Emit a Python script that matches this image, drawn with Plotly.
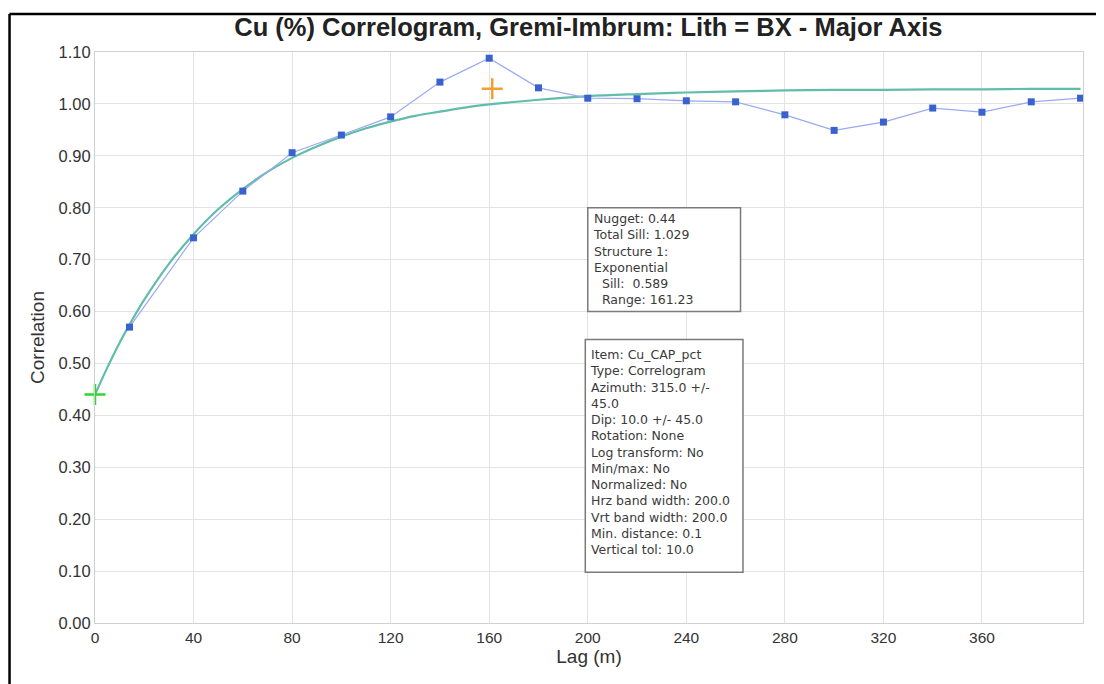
import plotly.graph_objects as go

# Experimental correlogram points
lag_exp = [14, 40, 60, 80, 100, 120, 140, 160, 180, 200, 220, 240, 260, 280, 300, 320, 340, 360, 380, 400]
corr_exp = [0.570, 0.742, 0.832, 0.906, 0.940, 0.975, 1.042, 1.088, 1.031, 1.011, 1.010, 1.006, 1.004, 0.979,
            0.949, 0.965, 0.992, 0.984, 1.004, 1.011]

# Model curve
lag_model = [0, 5, 10, 15, 20, 30, 40, 50, 60, 70, 80, 90, 100, 110, 120, 130, 140, 150, 160, 180, 200,
             220, 240, 260, 280, 300, 320, 340, 360, 380, 400]
corr_model = [0.440, 0.492, 0.540, 0.583, 0.623, 0.692, 0.749, 0.797, 0.836, 0.869, 0.896, 0.918, 0.937,
              0.953, 0.966, 0.977, 0.985, 0.993, 0.999, 1.008, 1.015, 1.019, 1.022, 1.024, 1.026, 1.027,
              1.027, 1.028, 1.028, 1.029, 1.029]

nugget_pt = (0, 0.44)
sill_range_pt = (161.23, 1.029)

x_ticks = [0, 40, 80, 120, 160, 200, 240, 280, 320, 360]
y_ticks = [0.0, 0.1, 0.2, 0.3, 0.4, 0.5, 0.6, 0.7, 0.8, 0.9, 1.0, 1.1]

box1_lines = ["Nugget: 0.44", "Total Sill: 1.029", "Structure 1:", "Exponential",
              "&nbsp;&nbsp;Sill:&nbsp;&nbsp;0.589", "&nbsp;&nbsp;Range: 161.23"]
box2_lines = ["Item: Cu_CAP_pct", "Type: Correlogram", "Azimuth: 315.0 +/-", "45.0",
              "Dip: 10.0 +/- 45.0", "Rotation: None", "Log transform: No", "Min/max: No",
              "Normalized: No", "Hrz band width: 200.0", "Vrt band width: 200.0",
              "Min. distance: 0.1", "Vertical tol: 10.0"]

FONT = "Liberation Sans, Arial, sans-serif"
BOXFONT = "DejaVu Sans, sans-serif"

fig = go.Figure()

fig.add_trace(go.Scatter(x=lag_model, y=corr_model, mode="lines",
                         line=dict(color="#62bcaa", width=2.2, shape="spline"),
                         showlegend=False, hoverinfo="skip"))
fig.add_trace(go.Scatter(x=lag_exp, y=corr_exp, mode="lines+markers",
                         line=dict(color="#9aaaf0", width=1.2),
                         marker=dict(symbol="square", size=7, color="#3a62cf"),
                         showlegend=False, cliponaxis=False))
fig.add_trace(go.Scatter(x=[nugget_pt[0]], y=[nugget_pt[1]], mode="markers",
                         marker=dict(symbol="cross-thin", size=15, line=dict(color="#2fd62f", width=2.5)),
                         showlegend=False, cliponaxis=False))
fig.add_trace(go.Scatter(x=[sill_range_pt[0]], y=[sill_range_pt[1]], mode="markers",
                         marker=dict(symbol="cross-thin", size=15, line=dict(color="#f0a032", width=2.5)),
                         showlegend=False, cliponaxis=False))

# info boxes
fig.add_shape(type="rect", xref="x", yref="y", x0=200, x1=262, y0=0.60, y1=0.80,
              line=dict(color="#7a7a7a", width=1.5), fillcolor="white", layer="above")
fig.add_shape(type="rect", xref="x", yref="y", x0=199, x1=263, y0=0.098, y1=0.546,
              line=dict(color="#7a7a7a", width=1.5), fillcolor="white", layer="above")

fig.add_annotation(x=201.2, y=0.797, xref="x", yref="y", xanchor="left", yanchor="top",
                   text="<br>".join(box1_lines), showarrow=False, align="left",
                   font=dict(family=BOXFONT, size=12.5, color="#3a3a3a"))
fig.add_annotation(x=200.2, y=0.535, xref="x", yref="y", xanchor="left", yanchor="top",
                   text="<br>".join(box2_lines), showarrow=False, align="left",
                   font=dict(family=BOXFONT, size=12.5, color="#3a3a3a"))

# outer black frame (top and left edges)
fig.add_shape(type="line", xref="paper", yref="paper", x0=-0.0865, x1=1.03, y0=1.0665, y1=1.0665,
              line=dict(color="black", width=2.5))
fig.add_shape(type="line", xref="paper", yref="paper", x0=-0.0865, x1=-0.0865, y0=1.0665, y1=-0.12,
              line=dict(color="black", width=2.5))

fig.update_layout(
    width=1096, height=676,
    margin=dict(l=87, r=21, t=44, b=61),
    paper_bgcolor="white", plot_bgcolor="white",
    title=dict(text="<b>Cu (%) Correlogram, Gremi-Imbrum: Lith = BX - Major Axis</b>",
               x=0.5295, xanchor="center", y=0.9715, yanchor="middle",
               font=dict(family=FONT, size=25.5, color="#222222")),
    font=dict(family=FONT, color="#333333"),
    showlegend=False,
)
fig.update_xaxes(range=[0, 401], tickvals=x_ticks, ticktext=[str(v) for v in x_ticks],
                 showgrid=True, gridcolor="#e3e3e3", gridwidth=1,
                 showline=True, linecolor="#d0d0d0", mirror=True, zeroline=False,
                 ticks="", tickfont=dict(size=15.5, color="#333333"),
                 title=dict(text="Lag (m)", font=dict(size=19, color="#333333"), standoff=4))
fig.update_yaxes(range=[0, 1.1], tickvals=y_ticks, ticktext=[f"{v:.2f}" for v in y_ticks],
                 showgrid=True, gridcolor="#e3e3e3", gridwidth=1,
                 showline=True, linecolor="#d0d0d0", mirror=True, zeroline=False,
                 ticks="", tickfont=dict(size=16.5, color="#333333"),
                 title=dict(text="Correlation", font=dict(size=19, color="#333333"), standoff=8))

fig.write_html("out.html")
